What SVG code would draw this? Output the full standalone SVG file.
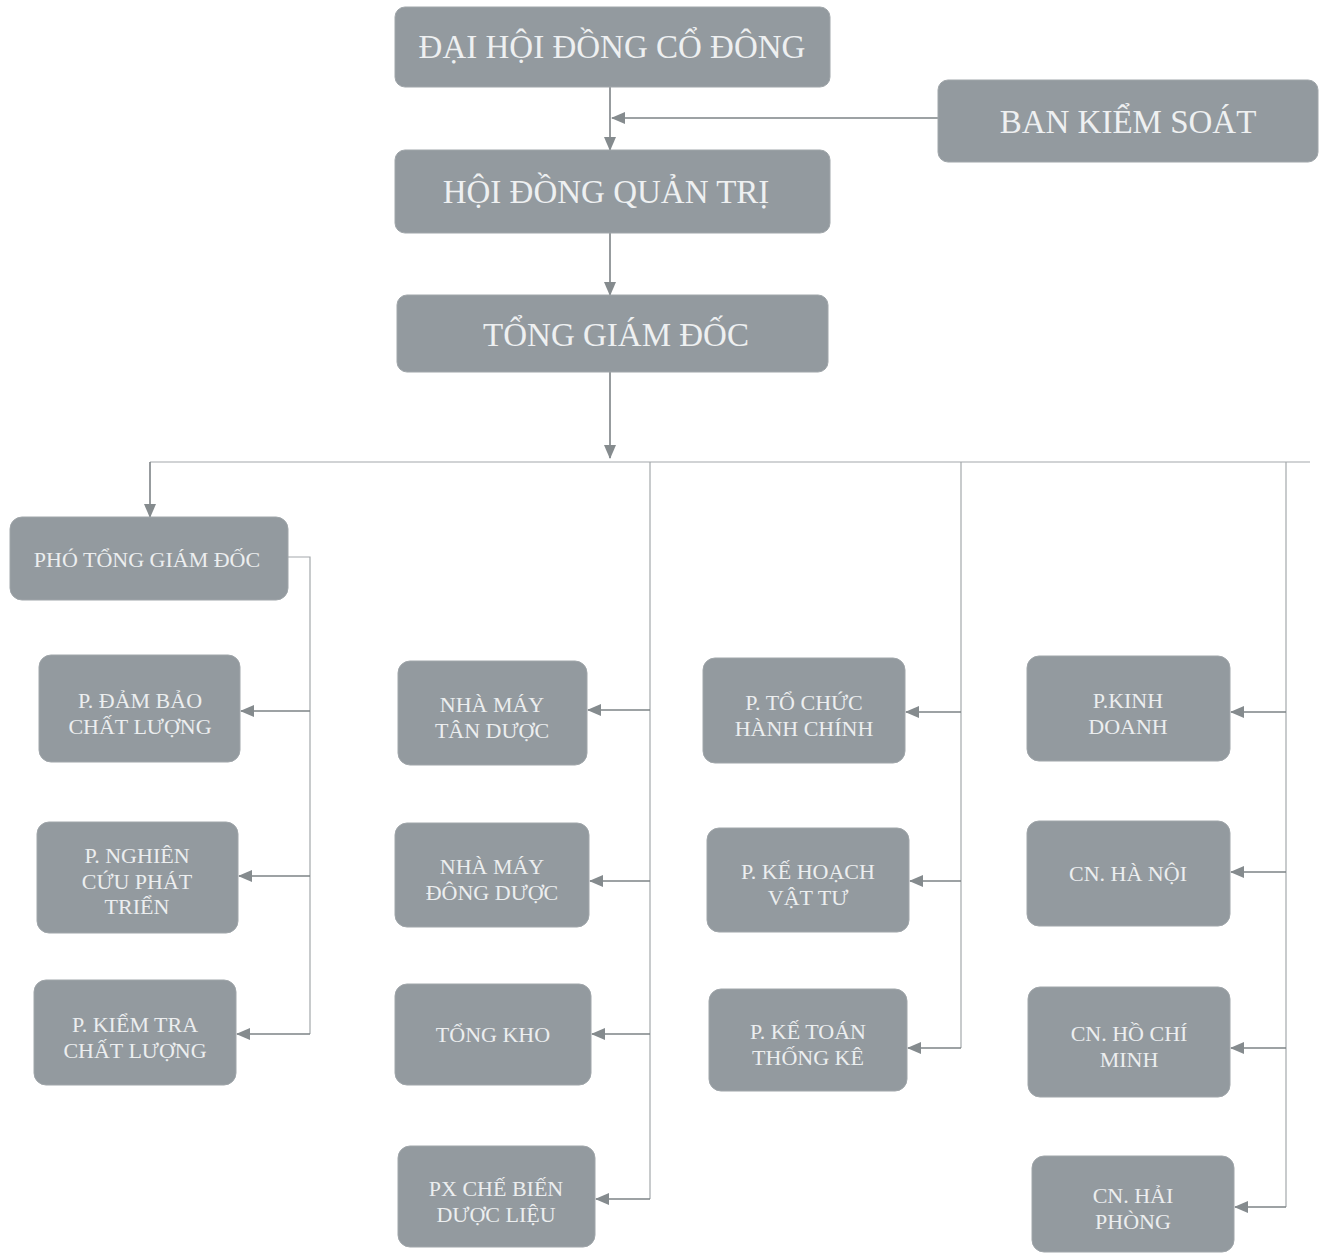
<svg xmlns="http://www.w3.org/2000/svg" width="1327" height="1255" viewBox="0 0 1327 1255">
<style>
.box{fill:#939a9f;stroke:#a0a6aa;stroke-width:1}
.big{font-family:"Liberation Serif","DejaVu Serif",serif;font-size:33px;fill:#eef0f1;text-anchor:middle}
.sm{font-family:"Liberation Serif","DejaVu Serif",serif;font-size:22px;fill:#eceeef;text-anchor:middle}
.ln{fill:none;stroke:#7d8386;stroke-width:1.6}
.lt{fill:none;stroke:#a3a8ab;stroke-width:1.2}
</style>
<defs>
<marker id="ah" markerUnits="userSpaceOnUse" markerWidth="14" markerHeight="12" refX="13" refY="6" orient="auto">
<path d="M0,0 L14,6 L0,12 Z" fill="#858b8e"/>
</marker>
</defs>
<rect width="1327" height="1255" fill="#ffffff"/>
<g id="connectors">
<path class="ln" d="M610,87 V150" marker-end="url(#ah)"/>
<path class="ln" d="M938,118 H612" marker-end="url(#ah)"/>
<path class="ln" d="M610,233 V295" marker-end="url(#ah)"/>
<path class="ln" d="M610,372 V458" marker-end="url(#ah)"/>
<path class="lt" d="M150,462 H1310"/>
<path class="ln" d="M150,462 V517" marker-end="url(#ah)"/>
<path class="lt" d="M288,557 H310 V1034"/>
<path class="ln" d="M310,711 H241" marker-end="url(#ah)"/>
<path class="ln" d="M310,876 H239" marker-end="url(#ah)"/>
<path class="ln" d="M310,1034 H237" marker-end="url(#ah)"/>
<path class="lt" d="M650,462 V1199"/>
<path class="ln" d="M650,710 H588" marker-end="url(#ah)"/>
<path class="ln" d="M650,881 H590" marker-end="url(#ah)"/>
<path class="ln" d="M650,1034 H592" marker-end="url(#ah)"/>
<path class="ln" d="M650,1199 H596" marker-end="url(#ah)"/>
<path class="lt" d="M961,462 V1048"/>
<path class="ln" d="M961,712 H906" marker-end="url(#ah)"/>
<path class="ln" d="M961,881 H910" marker-end="url(#ah)"/>
<path class="ln" d="M961,1048 H908" marker-end="url(#ah)"/>
<path class="lt" d="M1286,462 V1207"/>
<path class="ln" d="M1286,712 H1231" marker-end="url(#ah)"/>
<path class="ln" d="M1286,872 H1231" marker-end="url(#ah)"/>
<path class="ln" d="M1286,1048 H1231" marker-end="url(#ah)"/>
<path class="ln" d="M1286,1207 H1235" marker-end="url(#ah)"/>
</g>
<g id="n-dhdcd"><rect class="box" x="395" y="7" width="435" height="80" rx="10"/><text class="big" x="612" y="58">ĐẠI HỘI ĐỒNG CỔ ĐÔNG</text></g>
<g id="n-bks"><rect class="box" x="938" y="80" width="380" height="82" rx="10"/><text class="big" x="1128" y="133">BAN KIỂM SOÁT</text></g>
<g id="n-hdqt"><rect class="box" x="395" y="150" width="435" height="83" rx="10"/><text class="big" x="606" y="203">HỘI ĐỒNG QUẢN TRỊ</text></g>
<g id="n-tgd"><rect class="box" x="397" y="295" width="431" height="77" rx="10"/><text class="big" x="616" y="346">TỔNG GIÁM ĐỐC</text></g>
<g id="n-ptgd"><rect class="box" x="10" y="517" width="278" height="83" rx="12"/><text class="sm" x="147" y="567">PHÓ TỔNG GIÁM ĐỐC</text></g>
<g id="n-dbcl"><rect class="box" x="39" y="655" width="201" height="107" rx="12"/><text class="sm" x="140" y="708">P. ĐẢM BẢO</text><text class="sm" x="140" y="734">CHẤT LƯỢNG</text></g>
<g id="n-nc"><rect class="box" x="37" y="822" width="201" height="111" rx="12"/><text class="sm" x="137" y="863">P. NGHIÊN</text><text class="sm" x="137" y="889">CỨU PHÁT</text><text class="sm" x="137" y="914">TRIỂN</text></g>
<g id="n-ktcl"><rect class="box" x="34" y="980" width="202" height="105" rx="12"/><text class="sm" x="135" y="1032">P. KIỂM TRA</text><text class="sm" x="135" y="1058">CHẤT LƯỢNG</text></g>
<g id="n-nmtd"><rect class="box" x="398" y="661" width="189" height="104" rx="12"/><text class="sm" x="492" y="712">NHÀ MÁY</text><text class="sm" x="492" y="738">TÂN DƯỢC</text></g>
<g id="n-nmdd"><rect class="box" x="395" y="823" width="194" height="104" rx="12"/><text class="sm" x="492" y="874">NHÀ MÁY</text><text class="sm" x="492" y="900">ĐÔNG DƯỢC</text></g>
<g id="n-tk"><rect class="box" x="395" y="984" width="196" height="101" rx="12"/><text class="sm" x="493" y="1042">TỔNG KHO</text></g>
<g id="n-px"><rect class="box" x="398" y="1146" width="197" height="101" rx="12"/><text class="sm" x="496" y="1196">PX CHẾ BIẾN</text><text class="sm" x="496" y="1222">DƯỢC LIỆU</text></g>
<g id="n-tchc"><rect class="box" x="703" y="658" width="202" height="105" rx="12"/><text class="sm" x="804" y="710">P. TỔ CHỨC</text><text class="sm" x="804" y="736">HÀNH CHÍNH</text></g>
<g id="n-khvt"><rect class="box" x="707" y="828" width="202" height="104" rx="12"/><text class="sm" x="808" y="879">P. KẾ HOẠCH</text><text class="sm" x="808" y="905">VẬT TƯ</text></g>
<g id="n-kttk"><rect class="box" x="709" y="989" width="198" height="102" rx="12"/><text class="sm" x="808" y="1039">P. KẾ TOÁN</text><text class="sm" x="808" y="1065">THỐNG KÊ</text></g>
<g id="n-kd"><rect class="box" x="1027" y="656" width="203" height="105" rx="12"/><text class="sm" x="1128" y="708">P.KINH</text><text class="sm" x="1128" y="734">DOANH</text></g>
<g id="n-hn"><rect class="box" x="1027" y="821" width="203" height="105" rx="12"/><text class="sm" x="1128" y="881">CN. HÀ NỘI</text></g>
<g id="n-hcm"><rect class="box" x="1028" y="987" width="202" height="110" rx="12"/><text class="sm" x="1129" y="1041">CN. HỒ CHÍ</text><text class="sm" x="1129" y="1067">MINH</text></g>
<g id="n-hp"><rect class="box" x="1032" y="1156" width="202" height="96" rx="12"/><text class="sm" x="1133" y="1203">CN. HẢI</text><text class="sm" x="1133" y="1229">PHÒNG</text></g>
</svg>
